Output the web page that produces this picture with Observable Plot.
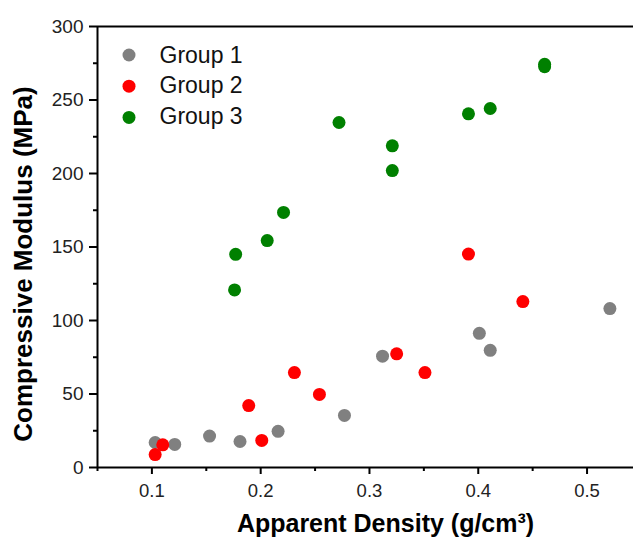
<!DOCTYPE html>
<html>
<head>
<meta charset="utf-8">
<script src="https://cdn.jsdelivr.net/npm/d3@7"></script>
<script src="https://cdn.jsdelivr.net/npm/@observablehq/plot@0.6"></script>
<style>
  html, body { margin: 0; padding: 0; background: #fff; overflow: hidden; }
  #chart svg { display: block; }
</style>
</head>
<body>
<div id="chart"></div>
<script>
// ---- Data ----
const groupNames = ["Group 1", "Group 2", "Group 3"];
const groupColors = ["#808080", "#ff0000", "#008000"];

const group1Density = [0.103, 0.121, 0.153, 0.181, 0.216, 0.277, 0.312, 0.401, 0.411, 0.521];
const group1Modulus = [17.0, 15.7, 21.4, 17.7, 24.6, 35.4, 75.7, 91.3, 79.7, 108.1];

const group2Density = [0.103, 0.110, 0.189, 0.201, 0.231, 0.254, 0.325, 0.351, 0.391, 0.441];
const group2Modulus = [8.8, 15.4, 42.1, 18.4, 64.6, 49.7, 77.3, 64.6, 145.2, 112.9];

const group3Density = [0.176, 0.177, 0.206, 0.221, 0.272, 0.321, 0.321, 0.391, 0.411, 0.461, 0.461];
const group3Modulus = [120.8, 145.0, 154.4, 173.5, 234.7, 218.8, 202.0, 240.6, 244.2, 272.7, 274.3];

const xMajorTicks = [0.1, 0.2, 0.3, 0.4, 0.5];
const xMinorTicks = [0.05, 0.15, 0.25, 0.35, 0.45];
const yMajorTicks = [0, 50, 100, 150, 200, 250, 300];
const yMinorTicks = [25, 75, 125, 175, 225, 275];

const xTitle = "Apparent Density (g/cm³)";
const yTitle = "Compressive Modulus (MPa)";

// ---- Build table ----
const series = [
  [group1Density, group1Modulus],
  [group2Density, group2Modulus],
  [group3Density, group3Modulus]
];
const points = [];
series.forEach(([xs, ys], gi) => {
  xs.forEach((x, i) => points.push({group: groupNames[gi], density: x, modulus: ys[i]}));
});

const font = "'Liberation Sans', Arial, Helvetica, sans-serif";

const legendMarks = groupNames.flatMap((g, i) => [
  Plot.dot([g], {frameAnchor: "top-left", dx: 31.5, dy: 28.5 + i * 31.2, r: 6.5, fill: groupColors[i]}),
  Plot.text([g], {frameAnchor: "top-left", dx: 62, dy: 29 + i * 30.5, text: d => d,
    textAnchor: "start", lineAnchor: "middle", fontSize: 23, fill: "#111"})
]);

const chart = Plot.plot({
  width: 633,
  height: 540,
  marginLeft: 97,
  marginTop: 26,
  marginBottom: 73,
  marginRight: 0,
  style: {fontFamily: font, background: "#fff", color: "#111"},
  x: {domain: [0.05, 0.5427]},
  y: {domain: [0, 300]},
  color: {domain: groupNames, range: groupColors},
  marks: [
    Plot.dot(points, {x: "density", y: "modulus", fill: d => groupColors[groupNames.indexOf(d.group)], r: 6.5}),
    Plot.ruleX([0.05], {strokeWidth: 2, stroke: "#000"}),
    Plot.ruleY([0, 300], {strokeWidth: 2, stroke: "#000"}),
    Plot.axisX(xMajorTicks, {anchor: "bottom", tickSize: 7, tickPadding: 9, strokeWidth: 2, stroke: "#000",
      fontSize: 18.5, tickFormat: d => d.toFixed(1), label: null, fill: "#222"}),
    Plot.axisX(xMinorTicks, {anchor: "bottom", tickSize: 4, strokeWidth: 2, stroke: "#000",
      tickFormat: () => "", label: null}),
    Plot.axisY(yMajorTicks, {anchor: "left", tickSize: 8, tickPadding: 6, strokeWidth: 2, stroke: "#000",
      fontSize: 19, tickFormat: d => String(d), label: null, fill: "#222"}),
    Plot.axisY(yMinorTicks, {anchor: "left", tickSize: 4, strokeWidth: 2, stroke: "#000",
      tickFormat: () => "", label: null}),
    Plot.text([yTitle], {frameAnchor: "left", dx: -74, dy: 17, rotate: -90, text: d => d,
      fontSize: 26, fontWeight: "bold", fill: "#000", textAnchor: "middle", lineAnchor: "middle"}),
    Plot.text([xTitle], {frameAnchor: "bottom", dx: 20, dy: 56, text: d => d,
      fontSize: 25, fontWeight: "bold", fill: "#000", textAnchor: "middle", lineAnchor: "middle"}),
    ...legendMarks
  ]
});
document.getElementById("chart").appendChild(chart);
</script>
</body>
</html>
